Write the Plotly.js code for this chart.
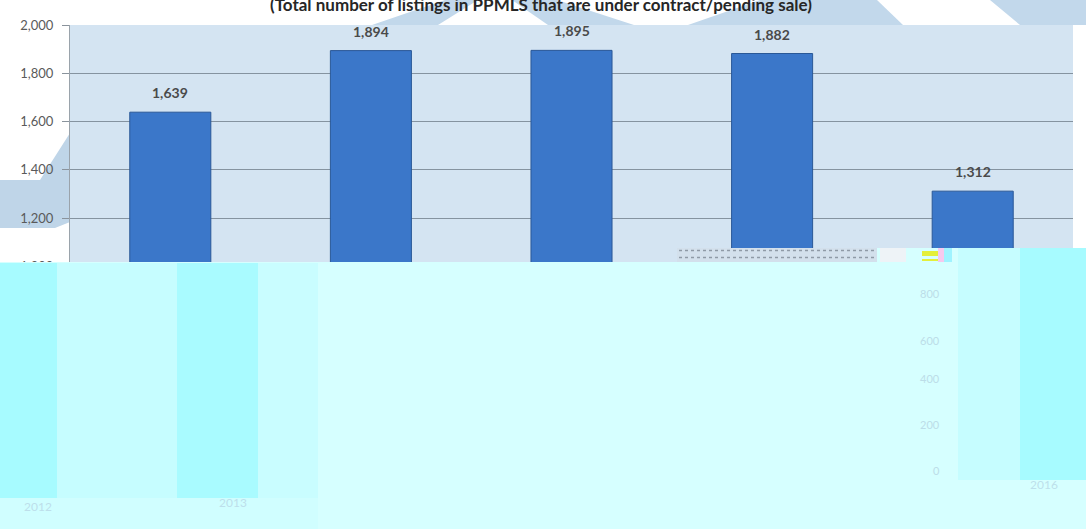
<!DOCTYPE html>
<html>
<head>
<meta charset="utf-8">
<script src="https://cdn.plot.ly/plotly-3.0.1.min.js"></script>
<style>html,body{margin:0;padding:0;background:#fff;}#chart{width:1086px;height:529px;}</style>
</head>
<body>
<div id="chart"></div>
<script>
// ---- data ----
const categories = ['2012', '2013', '2014', '2015', '2016'];
const pendingListings = [1639, 1894, 1895, 1882, 1312];
const yTickValues = [1000, 1200, 1400, 1600, 1800, 2000];
const chartSubtitle = '(Total number of listings in PPMLS that are under contract/pending sale)';
const ghostXLabels = ['2012', '2013', '2016'];
const ghostYLabels = ['800', '600', '400', '200', '0'];

// ---- layout helpers (pixel -> paper) ----
const W = 1086, H = 529, L = 70, R = 1073, T = 25, B = 508;
const px = x => (x - L) / (R - L);
const py = y => (B - y) / (B - T);
function rect(x0, y0, x1, y1, color, layer) {
  return {type: 'rect', xref: 'paper', yref: 'paper', x0: px(x0), x1: px(x1), y0: py(y1), y1: py(y0),
          fillcolor: color, line: {width: 0}, layer: layer || 'above'};
}
function poly(pts, color, layer) {
  const d = pts.map((p, i) => (i ? 'L' : 'M') + px(p[0]).toFixed(5) + ',' + py(p[1]).toFixed(5)).join(' ') + ' Z';
  return {type: 'path', xref: 'paper', yref: 'paper', path: d, fillcolor: color, line: {width: 0}, layer: layer || 'below'};
}
function hline(x0, x1, y, color, dash, width) {
  return {type: 'line', xref: 'paper', yref: 'paper', x0: px(x0), x1: px(x1), y0: py(y), y1: py(y),
          line: {color: color, dash: dash, width: width}, layer: 'above'};
}

const wm = '#c2d8eb';
const shapes = [
  // watermark pieces visible in the margins
  poly([[0,180],[40,180],[70,133],[70,222],[55,228],[0,228]], '#bfd5e8'),
  poly([[372,25],[445,0],[557,0],[634,25]], wm),
  poly([[438,25],[478,0],[512,0],[548,25]], '#ffffff'),
  poly([[688,25],[760,0],[877,0],[903,25]], wm),
  poly([[990,0],[1086,0],[1086,25],[1020,25]], wm),
  // scan damage overlay
  rect(0, 262, 1086, 529, '#d6ffff'),
  rect(877, 248, 1086, 262, '#d6ffff'),
  rect(958, 248, 1020, 480, '#c6fdff'),
  rect(1020, 248, 1086, 480, '#a7fbff'),
  rect(0, 263, 57, 498, '#a7fbff'),
  rect(57, 263, 177, 498, '#c6fdff'),
  rect(177, 263, 258, 498, '#a9fbff'),
  rect(258, 263, 318, 498, '#c9fdff'),
  rect(0, 498, 318, 529, '#d0feff'),
  rect(677, 248, 877, 262, '#d3e0ec'),
  hline(679, 875, 250.5, '#8f9aa6', 'dot', 1.5),
  hline(679, 875, 257.5, '#8f9aa6', 'dot', 1.5),
  rect(880, 248, 906, 262, '#eef3f7'),
  rect(922, 251, 938, 256, '#e4ef3a'),
  rect(922, 259, 938, 261, '#e4ef3a'),
  rect(938, 248, 944, 262, '#f6c9ee'),
  rect(944, 248, 952, 262, '#9ff3ff')
];

const annotations = pendingListings.map((v, i) => ({
  x: i, y: v, xref: 'x', yref: 'y', text: v.toLocaleString('en-US'),
  showarrow: false, yanchor: 'bottom', yshift: 9,
  font: {family: 'Lato, "Open Sans", sans-serif', size: 14, color: '#4a4a4a', weight: 'bold'}
}));
annotations.push({
  x: px(541), y: 1, xref: 'paper', yref: 'paper', text: '<b>' + chartSubtitle + '</b>',
  showarrow: false, yanchor: 'middle', yshift: T - 4,
  font: {family: 'Lato, "Open Sans", sans-serif', size: 17, color: '#262626'}
});
const ghostXPos = [[22, 516], [217, 512], [1060, 494]];
ghostXLabels.forEach((t, i) => annotations.push({
  x: px(ghostXPos[i][0]), y: py(ghostXPos[i][1]), xref: 'paper', yref: 'paper', text: t, showarrow: false,
  font: {family: 'Lato, sans-serif', size: 12, color: '#bddfeb'}
}));
const ghostYPos = [293, 340, 387, 433, 479];
ghostYLabels.forEach((t, i) => annotations.push({
  x: px(942), y: py(ghostYPos[i]), xref: 'paper', yref: 'paper', text: t, showarrow: false, xanchor: 'right',
  font: {family: 'Lato, sans-serif', size: 11, color: '#bcdde8'}
}));

const trace = {
  type: 'bar', x: categories, y: pendingListings,
  marker: {color: '#3b77c9', line: {color: '#2a5897', width: 1}},
  hoverinfo: 'skip'
};

const layout = {
  width: W, height: H,
  margin: {l: L, r: W - R, t: T, b: H - B, pad: 0},
  paper_bgcolor: '#ffffff', plot_bgcolor: '#d4e4f2',
  showlegend: false, bargap: 0.596,
  font: {family: 'Lato, "Open Sans", sans-serif', color: '#555555'},
  xaxis: {type: 'category', range: [-0.5, categories.length - 0.5], autorange: false,
          showgrid: false, zeroline: false, showline: false, ticks: '',
          tickfont: {size: 13, color: '#555555'}},
  yaxis: {range: [0, 2000], autorange: false, tickvals: yTickValues, tickformat: ',d', showgrid: true, gridcolor: '#8593a0', gridwidth: 1,
          zeroline: false, showline: true, linecolor: '#9aa3ab', linewidth: 1, ticks: 'outside', ticklen: 7,
          tickcolor: '#8a939c', ticklabelstandoff: 6, tickfont: {size: 13, color: '#5a5a5a'}},
  shapes: shapes,
  annotations: annotations
};

Plotly.newPlot('chart', [trace], layout, {displayModeBar: false, staticPlot: true});
</script>
</body>
</html>
